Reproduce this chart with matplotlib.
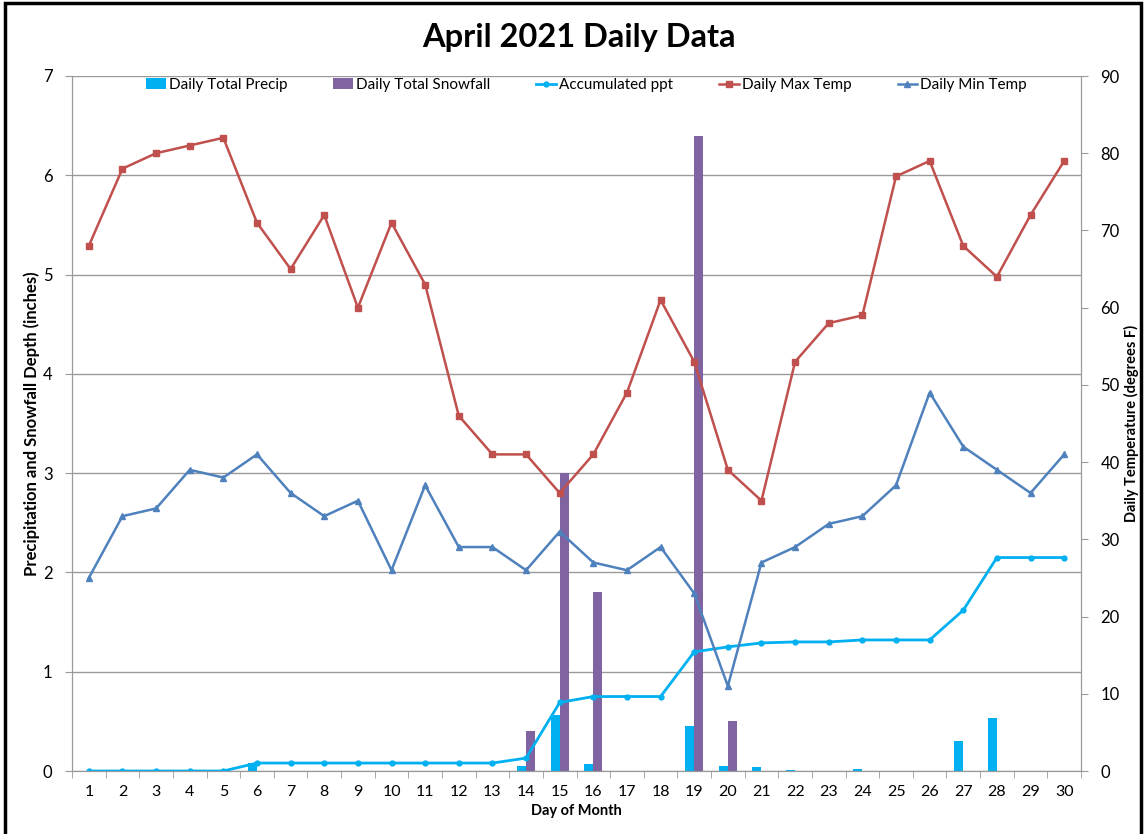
import matplotlib.pyplot as plt
from matplotlib.patches import Rectangle
import numpy as np

plt.rcParams['font.family'] = ['Lato', 'DejaVu Sans']

days = list(range(1, 31))

# daily precip (inches)
precip = [0, 0, 0, 0, 0, 0.08, 0, 0, 0, 0, 0, 0, 0, 0.05, 0.56, 0.07, 0, 0, 0.45, 0.05,
          0.04, 0.01, 0, 0.02, 0, 0, 0.30, 0.53, 0, 0]
# daily snowfall (inches)
snowfall = [0, 0, 0, 0, 0, 0, 0, 0, 0, 0, 0, 0, 0, 0.40, 3.0, 1.8, 0, 0, 6.4, 0.50,
            0, 0, 0, 0, 0, 0, 0, 0, 0, 0]
# accumulated precip
accum = [0, 0, 0, 0, 0, 0.08, 0.08, 0.08, 0.08, 0.08, 0.08, 0.08, 0.08, 0.13, 0.69, 0.75,
         0.75, 0.75, 1.20, 1.25, 1.29, 1.30, 1.30, 1.32, 1.32, 1.32, 1.62, 2.15, 2.15, 2.15]
max_temp = [68, 78, 80, 81, 82, 71, 65, 72, 60, 71, 63, 46, 41, 41, 36, 41, 49, 61, 53, 39,
            35, 53, 58, 59, 77, 79, 68, 64, 72, 79]
min_temp = [25, 33, 34, 39, 38, 41, 36, 33, 35, 26, 37, 29, 29, 26, 31, 27, 26, 29, 23, 11,
            27, 29, 32, 33, 37, 49, 42, 39, 36, 41]

c_precip = '#00B0F0'
c_snow = '#8064A2'
c_max = '#C0504D'
c_min = '#4F81BD'
grid_c = '#9a9a9a'

fig = plt.figure(figsize=(11.45, 8.34), dpi=100)
ax = fig.add_axes([72/1145, 1-771/834, (1081-72)/1145, (771-76)/834])
ax2 = ax.twinx()

x = np.array(days)
w = 0.27
b1 = ax.bar(x - w/2, precip, width=w, color=c_precip, label='Daily Total Precip', zorder=2)
b2 = ax.bar(x + w/2, snowfall, width=w, color=c_snow, label='Daily Total Snowfall', zorder=2)
l1, = ax.plot(x, accum, color=c_precip, lw=2, marker='o', ms=3.5, label='Accumulated ppt', zorder=3)

l2, = ax2.plot(x, max_temp, color=c_max, lw=1.8, marker='s', ms=4.5, label='Daily Max Temp')
l3, = ax2.plot(x, min_temp, color=c_min, lw=1.8, marker='^', ms=4.5, label='Daily Min Temp')

ax.set_xlim(0.5, 30.5)
ax.set_ylim(0, 7)
ax2.set_ylim(0, 90)
ax.set_yticks(range(0, 8))
ax2.set_yticks(range(0, 91, 10))
ax.set_xticks(days)
ax.set_xticks(np.arange(0.5, 31, 1), minor=True)
ax.tick_params(axis='x', which='major', length=0, labelsize=11.5, pad=10)
ax.tick_params(axis='x', which='minor', length=5, color=grid_c, direction='out')
ax.tick_params(axis='y', length=5, color=grid_c, labelsize=12, pad=9)
ax2.tick_params(axis='y', length=5, color=grid_c, labelsize=12, pad=9)

for a in (ax, ax2):
    a.spines['top'].set_visible(False)
    for s in ('left', 'right', 'bottom'):
        a.spines[s].set_color(grid_c)
ax.yaxis.grid(True, color=grid_c, lw=1)
ax.set_axisbelow(True)

ax.set_ylabel('Precipitation and Snowfall Depth (inches)', fontsize=12, fontweight='bold')
ax.yaxis.set_label_coords(-0.0317, 0.5)
ax2.set_ylabel('Daily Temperature (degrees F)', fontsize=10.5, fontweight='bold')
ax2.yaxis.set_label_coords(1.0426, 0.5)
ax.set_xlabel('Day of Month', fontsize=10.5, fontweight='bold', labelpad=4)

fig.text(579/1145, 1-38/834, 'April 2021 Daily Data', ha='center', va='center',
         fontsize=23.5, fontweight='bold')

handles = [b1, b2, l1, l2, l3]
labels = [h.get_label() for h in handles]
leg = ax2.legend(handles, labels, loc='upper center', bbox_to_anchor=(0.51, 1.017), ncol=5,
                 frameon=False, fontsize=11, handlelength=1.3, handletextpad=0.2,
                 columnspacing=3.0)

fig.patches.append(Rectangle((5/1145, -0.05), (1141-5)/1145, 1.05 - 3/834,
                             transform=fig.transFigure, fill=False, edgecolor='black',
                             lw=2.5, zorder=10))

fig.savefig('out.png', dpi=100)
